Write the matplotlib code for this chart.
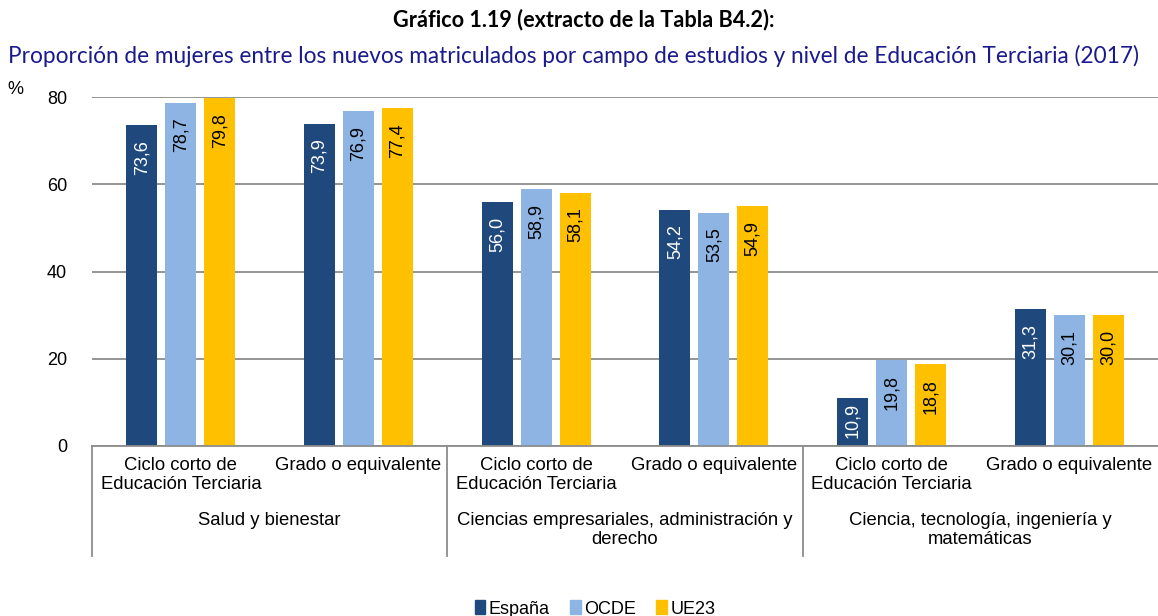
import matplotlib
matplotlib.use('Agg')
import matplotlib.pyplot as plt
import matplotlib.patches as mpatches
import numpy as np

# datos del gráfico
niveles = ["Ciclo corto de\nEducación Terciaria", "Grado o equivalente"] * 3
campos = ["Salud y bienestar",
          "Ciencias empresariales, administración y\nderecho",
          "Ciencia, tecnología, ingeniería y\nmatemáticas"]
series = ["España", "OCDE", "UE23"]
espana = [73.6, 73.9, 56.0, 54.2, 10.9, 31.3]
ocde = [78.7, 76.9, 58.9, 53.5, 19.8, 30.1]
ue23 = [79.8, 77.4, 58.1, 54.9, 18.8, 30.0]
yticks = [0, 20, 40, 60, 80]

colores = ['#1F497D', '#8DB4E2', '#FFC000']
color_txt = ['white', 'black', 'black']

fig = plt.figure(figsize=(11.58, 6.16), dpi=100)
W, H = 1158, 616
ax = fig.add_axes([92 / W, 1 - 446 / H, (1158 - 92) / W, (446 - 97) / H])
h_ax = 446 - 97

x = np.arange(len(niveles))
ancho = 31 / 178
paso = 39 / 178
for i, (vals, col, tc) in enumerate(zip([espana, ocde, ue23], colores, color_txt)):
    pos = x + (i - 1) * paso
    ax.bar(pos, vals, width=ancho, color=col, zorder=3)
    for p, v in zip(pos, vals):
        # en barras cortas la etiqueta se acerca al extremo para caber dentro
        alto_px = v * h_ax / 80
        desp_px = min(15, max(4, alto_px - 36 - 8))
        ax.annotate(f"{v:.1f}".replace('.', ','), (p, v), xytext=(0, -desp_px * 0.72),
                    textcoords='offset points', rotation=90, ha='center', va='top',
                    fontsize=13, color=tc, family='Liberation Sans', zorder=4)

ax.set_xlim(-0.5, len(niveles) - 0.5)
ax.set_ylim(0, 80)
ax.set_yticks(yticks)
ax.set_yticklabels([str(t) for t in yticks], family='Liberation Sans', fontsize=13)
ax.tick_params(axis='y', length=0, pad=18)
ax.set_xticks([])
ax.yaxis.grid(True, color='#8C8C8C', linewidth=1.3, zorder=0)
for s in ['left', 'right', 'top']:
    ax.spines[s].set_visible(False)
ax.spines['bottom'].set_color('#8C8C8C')
ax.spines['bottom'].set_linewidth(1.3)
ax.spines['bottom'].set_zorder(5)

trans = ax.get_xaxis_transform()
for xi, lab in zip(x, niveles):
    ax.text(xi, -11 / h_ax, lab, transform=trans, ha='center', va='top',
            fontsize=13.3, family='Liberation Sans', linespacing=1.12)
for g, campo in enumerate(campos):
    ax.text(2 * g + 0.5, -66 / h_ax, campo, transform=trans, ha='center', va='top',
            fontsize=13.3, family='Liberation Sans', linespacing=1.12)
for sep in [-0.5, 1.5, 3.5]:
    ax.plot([sep, sep], [0, -110 / h_ax], transform=trans, color='#8C8C8C',
            linewidth=1.3, clip_on=False)

fig.text(15 / W, 1 - 89 / H, "%", fontsize=13, family='Liberation Sans', ha='center', va='center')

fig.text(584 / W, 1 - 20 / H, "Gráfico 1.19 (extracto de la Tabla B4.2):", ha='center', va='center',
         fontsize=15.6, fontweight='bold', family='Lato')
fig.text(574 / W, 1 - 56 / H,
         "Proporción de mujeres entre los nuevos matriculados por campo de estudios y nivel de Educación Terciaria (2017)",
         ha='center', va='center', fontsize=16.3, color='#1A1A8C', family='Lato')

handles = [mpatches.Patch(color=c, label=s) for c, s in zip(colores, series)]
fig.legend(handles=handles, loc='center', bbox_to_anchor=(595 / W, 1 - 609 / H), ncol=3,
           frameon=False, handlelength=0.6, handleheight=0.8, handletextpad=0.2,
           columnspacing=1.1, borderpad=0, prop={'family': 'Liberation Sans', 'size': 13})

plt.savefig('out.png', dpi=100)
plt.close()
